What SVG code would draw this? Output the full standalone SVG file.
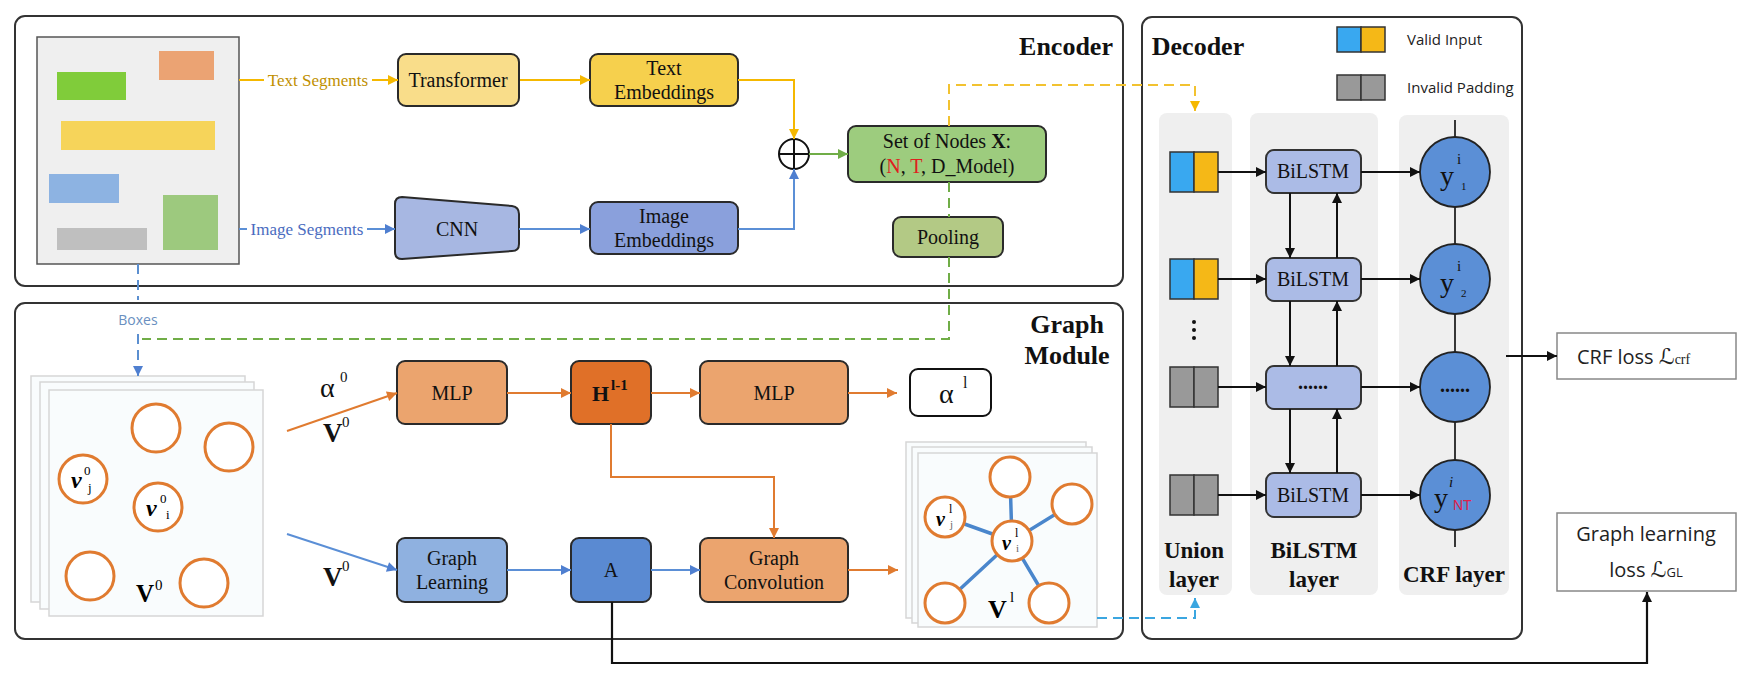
<svg xmlns="http://www.w3.org/2000/svg" width="1753" height="684" viewBox="0 0 1753 684">
<style>
.frame{fill:none;stroke:#333;stroke-width:2}
.box{stroke:#2a2a2a;stroke-width:2}
.t{font-family:"Liberation Serif","Times New Roman",serif;font-size:20px;fill:#111;text-anchor:middle}
.tb{font-family:"Liberation Serif","Times New Roman",serif;font-weight:bold;fill:#111;text-anchor:middle}
.s{font-family:"Open Sans","Liberation Sans",sans-serif;fill:#222}
.oc{fill:#fff;stroke:#e07b30;stroke-width:3}
.page{fill:#f9fcfd;stroke:#d6d6d6;stroke-width:1.5}
.ge{stroke:#4a86cc;stroke-width:3.5}
.crf{fill:#5b8fd6;stroke:#222;stroke-width:1.8}
.bil{fill:#abbbe6;stroke:#333;stroke-width:2}
.col{fill:#efefef}
.bk{stroke:#111;stroke-width:2;fill:none}
.or{stroke:#e07b30;stroke-width:2;fill:none}
.bl{stroke:#5b8fd6;stroke-width:2;fill:none}
.ye{stroke:#f5b800;stroke-width:2;fill:none}
.gr{stroke:#70ad47;stroke-width:2;fill:none}
</style>
<defs>
<marker id="a-or" viewBox="0 0 10 10" refX="10" refY="5" markerWidth="12" markerHeight="10" markerUnits="userSpaceOnUse" orient="auto"><path d="M0,0 L10,5 L0,10 z" fill="#e07b30"/></marker>
<marker id="a-bl" viewBox="0 0 10 10" refX="10" refY="5" markerWidth="12" markerHeight="10" markerUnits="userSpaceOnUse" orient="auto"><path d="M0,0 L10,5 L0,10 z" fill="#4f7fd0"/></marker>
<marker id="a-ye" viewBox="0 0 10 10" refX="10" refY="5" markerWidth="12" markerHeight="10" markerUnits="userSpaceOnUse" orient="auto"><path d="M0,0 L10,5 L0,10 z" fill="#f5b800"/></marker>
<marker id="a-gr" viewBox="0 0 10 10" refX="10" refY="5" markerWidth="12" markerHeight="10" markerUnits="userSpaceOnUse" orient="auto"><path d="M0,0 L10,5 L0,10 z" fill="#70ad47"/></marker>
<marker id="a-bk" viewBox="0 0 10 10" refX="10" refY="5" markerWidth="12" markerHeight="10" markerUnits="userSpaceOnUse" orient="auto"><path d="M0,0 L10,5 L0,10 z" fill="#111"/></marker>
<marker id="a-cy" viewBox="0 0 10 10" refX="10" refY="5" markerWidth="11" markerHeight="10" markerUnits="userSpaceOnUse" orient="auto"><path d="M0,0 L10,5 L0,10 z" fill="#3ba6e0"/></marker>
</defs>

<!-- module frames -->
<g id="encoder-frame">
<rect class="frame" x="15" y="16" width="1108" height="270" rx="10"/>
<text class="tb" x="1066" y="55" font-size="26">Encoder</text>
</g>
<g id="graph-module-frame">
<rect class="frame" x="15" y="303" width="1108" height="336" rx="10"/>
<text class="tb" x="1067" y="333" font-size="26">Graph</text>
<text class="tb" x="1067" y="364" font-size="26">Module</text>
</g>
<g id="decoder-frame">
<rect class="frame" x="1142" y="17" width="380" height="622" rx="10"/>
<text class="tb" x="1198" y="55" font-size="26">Decoder</text>
</g>

<!-- document -->
<g id="document">
<rect x="37" y="37" width="202" height="227" fill="#efefef" stroke="#555" stroke-width="1.5"/>
<rect x="159" y="51" width="55" height="29" fill="#eba373"/>
<rect x="57" y="72" width="69" height="28" fill="#80cc3a"/>
<rect x="61" y="121" width="154" height="29" fill="#f6d45a"/>
<rect x="49" y="174" width="70" height="29" fill="#8db3e2"/>
<rect x="163" y="195" width="55" height="55" fill="#9dc97e"/>
<rect x="57" y="228" width="90" height="22" fill="#bfbfbf"/>
</g>

<g id="transformer"><rect class="box" x="398" y="54" width="121" height="52" rx="8" fill="#f9dd8a"/><text class="t" x="458" y="87">Transformer</text></g>
<g id="text-embeddings"><rect class="box" x="590" y="54" width="148" height="52" rx="8" fill="#f6d04d"/><text class="t" x="664" y="75">Text</text><text class="t" x="664" y="99">Embeddings</text></g>
<g id="cnn"><path class="box" d="M395,204 Q395,197 402,197 L512,206 Q519,207 519,214 L519,244 Q519,251 512,251 L402,259 Q395,259 395,252 Z" fill="#a7b7e2"/><text class="t" x="457" y="236">CNN</text></g>
<g id="image-embeddings"><rect class="box" x="590" y="202" width="148" height="52" rx="8" fill="#8aa0dc"/><text class="t" x="664" y="223">Image</text><text class="t" x="664" y="247">Embeddings</text></g>
<g id="concat"><circle cx="794" cy="154" r="15" fill="#fff" stroke="#111" stroke-width="2"/><path d="M779,154 H809 M794,139 V169" stroke="#111" stroke-width="2"/></g>
<g id="set-of-nodes"><rect class="box" x="848" y="126" width="198" height="56" rx="8" fill="#9dcc7e"/>
<text class="t" x="947" y="148">Set of Nodes <tspan font-weight="bold">X</tspan>:</text>
<text class="t" x="947" y="173">(<tspan fill="#e02020">N</tspan>, <tspan fill="#e02020">T</tspan>, D_Model)</text></g>
<g id="pooling"><rect class="box" x="893" y="217" width="110" height="40" rx="8" fill="#b3c985"/><text class="t" x="948" y="244">Pooling</text></g>

<!-- graph module nodes -->
<g id="input-graph">
<rect class="page" x="31" y="376" width="214" height="226"/>
<rect class="page" x="40" y="382" width="214" height="227"/>
<rect class="page" x="49" y="390" width="214" height="226"/>
<circle class="oc" cx="156" cy="428" r="24"/>
<circle class="oc" cx="229" cy="447" r="24"/>
<circle class="oc" cx="83" cy="479" r="24"/>
<circle class="oc" cx="158" cy="507" r="24"/>
<circle class="oc" cx="90" cy="576" r="24"/>
<circle class="oc" cx="204" cy="583" r="24"/>
<text font-family="Liberation Serif,serif" font-weight="bold" font-style="italic" font-size="24" x="71" y="488">ν</text>
<text font-family="Liberation Serif,serif" font-size="13" x="84" y="475">0</text>
<text font-family="Liberation Serif,serif" font-size="13" x="88" y="492">j</text>
<text font-family="Liberation Serif,serif" font-weight="bold" font-style="italic" font-size="24" x="146" y="516">ν</text>
<text font-family="Liberation Serif,serif" font-size="13" x="160" y="503">0</text>
<text font-family="Liberation Serif,serif" font-size="13" x="166" y="519">i</text>
<text font-family="Liberation Serif,serif" font-weight="bold" font-size="25" x="136" y="602">V</text>
<text font-family="Liberation Serif,serif" font-size="15" x="155" y="590">0</text>
</g>
<g id="mlp1"><rect class="box" x="397" y="361" width="110" height="63" rx="8" fill="#eba46e"/><text class="t" x="452" y="400">MLP</text></g>
<g id="h"><rect class="box" x="571" y="361" width="80" height="63" rx="8" fill="#e07028"/>
<text font-family="Liberation Serif,serif" font-weight="bold" font-size="22" x="592" y="401" fill="#111">H</text>
<text font-family="Liberation Serif,serif" font-weight="bold" font-size="15" x="611" y="390" fill="#111">l-1</text></g>
<g id="mlp2"><rect class="box" x="700" y="361" width="148" height="63" rx="8" fill="#eba46e"/><text class="t" x="774" y="400">MLP</text></g>
<g id="alpha-l"><rect x="910" y="369" width="81" height="47" rx="8" fill="#fff" stroke="#111" stroke-width="2"/>
<text font-family="Liberation Serif,serif" font-size="28" x="939" y="403" fill="#111">α</text>
<text font-family="Liberation Serif,serif" font-size="16" x="963" y="388" fill="#111">l</text></g>
<g id="graph-learning"><rect class="box" x="397" y="538" width="110" height="64" rx="8" fill="#8fb1e0"/><text class="t" x="452" y="565">Graph</text><text class="t" x="452" y="589">Learning</text></g>
<g id="a"><rect class="box" x="571" y="538" width="80" height="64" rx="8" fill="#5a8ad2"/><text class="t" x="611" y="577">A</text></g>
<g id="graph-convolution"><rect class="box" x="700" y="538" width="148" height="64" rx="8" fill="#eba46e"/><text class="t" x="774" y="565">Graph</text><text class="t" x="774" y="589">Convolution</text></g>
<g id="output-graph">
<rect class="page" x="906" y="442" width="180" height="176"/>
<rect class="page" x="912" y="447" width="180" height="176"/>
<rect class="page" x="918" y="453" width="179" height="174"/>
<path class="ge" d="M1012,541 L1010,477 M1012,541 L1072,504 M1012,541 L945,517 M1012,541 L945,603 M1012,541 L1049,603"/>
<circle class="oc" cx="1010" cy="477" r="20"/>
<circle class="oc" cx="1072" cy="504" r="20"/>
<circle class="oc" cx="945" cy="517" r="20"/>
<circle class="oc" cx="1012" cy="541" r="20"/>
<circle class="oc" cx="945" cy="603" r="20"/>
<circle class="oc" cx="1049" cy="603" r="20"/>
<text font-family="Liberation Serif,serif" font-weight="bold" font-style="italic" font-size="20" x="936" y="526">ν</text>
<text font-family="Liberation Serif,serif" font-size="12" x="949" y="513">l</text>
<text font-family="Liberation Serif,serif" font-size="11" x="950" y="528" fill="#666">j</text>
<text font-family="Liberation Serif,serif" font-weight="bold" font-style="italic" font-size="20" x="1002" y="550">ν</text>
<text font-family="Liberation Serif,serif" font-size="12" x="1015" y="537">l</text>
<text font-family="Liberation Serif,serif" font-size="11" x="1016" y="552" fill="#666">i</text>
<text font-family="Liberation Serif,serif" font-weight="bold" font-size="26" x="988" y="618">V</text>
<text font-family="Liberation Serif,serif" font-size="15" x="1010" y="602">l</text>
</g>

<!-- decoder contents -->
<g id="decoder-columns">
<rect class="col" x="1159" y="113" width="73" height="482" rx="8"/>
<rect class="col" x="1250" y="113" width="128" height="482" rx="8"/>
<rect class="col" x="1399" y="115" width="110" height="480" rx="8"/>
<text class="tb" x="1194" y="558" font-size="23">Union</text>
<text class="tb" x="1194" y="587" font-size="23">layer</text>
<text class="tb" x="1314" y="558" font-size="23">BiLSTM</text>
<text class="tb" x="1314" y="587" font-size="23">layer</text>
<text class="tb" x="1454" y="582" font-size="23">CRF layer</text>
</g>
<g id="legend">
<rect x="1337" y="27" width="24" height="25" fill="#39a8f0" stroke="#333" stroke-width="1.5"/>
<rect x="1361" y="27" width="24" height="25" fill="#f5b817" stroke="#333" stroke-width="1.5"/>
<text class="s" x="1407" y="45" font-size="15">Valid Input</text>
<rect x="1337" y="75" width="24" height="25" fill="#999" stroke="#333" stroke-width="1.5"/>
<rect x="1361" y="75" width="24" height="25" fill="#999" stroke="#333" stroke-width="1.5"/>
<text class="s" x="1407" y="93" font-size="15">Invalid Padding</text>
</g>
<g id="union-cells">
<rect x="1170" y="152" width="24" height="40" fill="#39a8f0" stroke="#333" stroke-width="1.5"/>
<rect x="1194" y="152" width="24" height="40" fill="#f5b817" stroke="#333" stroke-width="1.5"/>
<rect x="1170" y="259" width="24" height="40" fill="#39a8f0" stroke="#333" stroke-width="1.5"/>
<rect x="1194" y="259" width="24" height="40" fill="#f5b817" stroke="#333" stroke-width="1.5"/>
<rect x="1170" y="367" width="24" height="40" fill="#999" stroke="#333" stroke-width="1.5"/>
<rect x="1194" y="367" width="24" height="40" fill="#999" stroke="#333" stroke-width="1.5"/>
<rect x="1170" y="475" width="24" height="40" fill="#999" stroke="#333" stroke-width="1.5"/>
<rect x="1194" y="475" width="24" height="40" fill="#999" stroke="#333" stroke-width="1.5"/>
<circle cx="1194" cy="322" r="2" fill="#111"/><circle cx="1194" cy="330" r="2" fill="#111"/><circle cx="1194" cy="338" r="2" fill="#111"/>
</g>
<g id="bilstm-cells">
<rect class="bil" x="1266" y="150" width="95" height="43" rx="8"/><text class="t" x="1313" y="178">BiLSTM</text>
<rect class="bil" x="1266" y="258" width="95" height="43" rx="8"/><text class="t" x="1313" y="286">BiLSTM</text>
<rect class="bil" x="1266" y="366" width="95" height="43" rx="8"/><text class="t" x="1313" y="389" font-weight="bold">......</text>
<rect class="bil" x="1266" y="473" width="95" height="44" rx="8"/><text class="t" x="1313" y="502">BiLSTM</text>
</g>
<g id="crf-cells">
<path d="M1455,120 V547" stroke="#222" stroke-width="1.8"/>
<circle class="crf" cx="1455" cy="172" r="35"/>
<circle class="crf" cx="1455" cy="279" r="35"/>
<circle class="crf" cx="1455" cy="387" r="35"/>
<circle class="crf" cx="1455" cy="495" r="35"/>
<g font-family="Liberation Serif,serif" fill="#111">
<text x="1440" y="185" font-size="28">y</text><text x="1457" y="164" font-size="15">i</text><text x="1461" y="190" font-size="11">1</text>
<text x="1440" y="292" font-size="28">y</text><text x="1457" y="271" font-size="15">i</text><text x="1461" y="297" font-size="11">2</text>
<text x="1455" y="392" font-size="20" font-weight="bold" text-anchor="middle">......</text>
<text x="1434" y="507" font-size="28">y</text><text x="1449" y="487" font-size="15" font-style="italic">i</text>
</g>
<text x="1453" y="510" font-family="Liberation Sans,sans-serif" font-size="14" fill="#e0204a">NT</text>
</g>
<g id="crf-loss"><rect x="1557" y="333" width="179" height="46" fill="#fff" stroke="#888" stroke-width="1.5"/>
<text class="s" x="1577" y="364" font-size="20">CRF loss <tspan font-family="DejaVu Serif,DejaVu Sans,serif" font-size="22">ℒ</tspan><tspan font-family="Liberation Serif,serif" font-size="14">crf</tspan></text></g>
<g id="graph-learning-loss"><rect x="1557" y="513" width="179" height="78" fill="#fff" stroke="#888" stroke-width="1.5"/>
<text class="s" x="1646" y="541" font-size="20" text-anchor="middle">Graph learning</text>
<text class="s" x="1646" y="577" font-size="20" text-anchor="middle">loss <tspan font-family="DejaVu Serif,DejaVu Sans,serif" font-size="22">ℒ</tspan><tspan font-size="13">GL</tspan></text></g>

<!-- connectors -->
<g id="connectors">
<path class="ye" d="M239,80 H264"/>
<text x="318" y="86" font-family="Liberation Serif,serif" font-size="17" fill="#bf9000" text-anchor="middle">Text Segments</text>
<path class="ye" d="M372,80 H398" marker-end="url(#a-ye)"/>
<path class="ye" d="M520,80 H590" marker-end="url(#a-ye)"/>
<path class="ye" d="M738,80 H794 V139" marker-end="url(#a-ye)"/>
<path class="bl" d="M239,229 H247" stroke="#4f7fd0"/>
<text x="307" y="235" font-family="Liberation Serif,serif" font-size="17" fill="#4a6cc0" text-anchor="middle">Image Segments</text>
<path class="bl" d="M367,229 H395" stroke="#4f7fd0" marker-end="url(#a-bl)"/>
<path class="bl" d="M519,229 H590" stroke="#4f7fd0" marker-end="url(#a-bl)"/>
<path class="bl" d="M738,229 H794 V169" stroke="#4f7fd0" marker-end="url(#a-bl)"/>
<path class="gr" d="M809,154 H848" marker-end="url(#a-gr)"/>
<path d="M949,126 V85 H1195 V111" fill="none" stroke="#f2c230" stroke-width="2" stroke-dasharray="10,6" marker-end="url(#a-ye)"/>
<path d="M949,182 V217 M949,257 V339 H142" fill="none" stroke="#70ad47" stroke-width="2" stroke-dasharray="10,6"/>
<path d="M138,264 V300 M138,334 V376" fill="none" stroke="#5b8fd0" stroke-width="2" stroke-dasharray="10,6" marker-end="url(#a-bl)"/>
<text x="138" y="325" font-family="Open Sans,Liberation Sans,sans-serif" font-size="14" fill="#6a8fc0" text-anchor="middle">Boxes</text>
<path class="or" d="M287,431 L397,393" marker-end="url(#a-or)"/>
<text x="320" y="397" font-family="Liberation Serif,serif" font-size="28" fill="#111">α</text>
<text x="340" y="382" font-family="Liberation Serif,serif" font-size="15" fill="#111">0</text>
<text x="323" y="442" font-family="Liberation Serif,serif" font-size="27" font-weight="bold" fill="#111">V</text>
<text x="342" y="427" font-family="Liberation Serif,serif" font-size="15" fill="#111">0</text>
<path class="bl" d="M287,534 L397,570" marker-end="url(#a-bl)"/>
<text x="323" y="586" font-family="Liberation Serif,serif" font-size="27" font-weight="bold" fill="#111">V</text>
<text x="342" y="571" font-family="Liberation Serif,serif" font-size="15" fill="#111">0</text>
<path class="or" d="M507,393 H571" marker-end="url(#a-or)"/>
<path class="or" d="M651,393 H700" marker-end="url(#a-or)"/>
<path class="or" d="M848,393 H897" marker-end="url(#a-or)"/>
<path class="or" d="M611,424 V477 H774 V538" marker-end="url(#a-or)"/>
<path class="bl" d="M507,570 H571" marker-end="url(#a-bl)"/>
<path class="bl" d="M651,570 H700" marker-end="url(#a-bl)"/>
<path class="or" d="M848,570 H898" marker-end="url(#a-or)"/>
<path d="M612,602 V663 H1647 V592" fill="none" stroke="#111" stroke-width="2.2" marker-end="url(#a-bk)"/>
<path d="M1097,618 H1195 V598" fill="none" stroke="#3ba6e0" stroke-width="2" stroke-dasharray="10,6" marker-end="url(#a-cy)"/>
<path d="M1218,172 H1266" class="bk" stroke-width="2.5" marker-end="url(#a-bk)"/>
<path d="M1218,279 H1266" class="bk" stroke-width="2.5" marker-end="url(#a-bk)"/>
<path d="M1218,387 H1266" class="bk" stroke-width="2.5" marker-end="url(#a-bk)"/>
<path d="M1218,495 H1266" class="bk" stroke-width="2.5" marker-end="url(#a-bk)"/>
<path class="bk" d="M1290,193 V258" marker-end="url(#a-bk)"/>
<path class="bk" d="M1290,301 V366" marker-end="url(#a-bk)"/>
<path class="bk" d="M1290,409 V473" marker-end="url(#a-bk)"/>
<path class="bk" d="M1337,258 V193" marker-end="url(#a-bk)"/>
<path class="bk" d="M1337,366 V301" marker-end="url(#a-bk)"/>
<path class="bk" d="M1337,473 V409" marker-end="url(#a-bk)"/>
<path class="bk" d="M1361,172 H1420" stroke-width="1.6" marker-end="url(#a-bk)"/>
<path class="bk" d="M1361,279 H1420" stroke-width="1.6" marker-end="url(#a-bk)"/>
<path class="bk" d="M1361,387 H1420" stroke-width="1.6" marker-end="url(#a-bk)"/>
<path class="bk" d="M1361,495 H1420" stroke-width="1.6" marker-end="url(#a-bk)"/>
<path class="bk" d="M1506,356 H1557" marker-end="url(#a-bk)"/>
</g>
</svg>
